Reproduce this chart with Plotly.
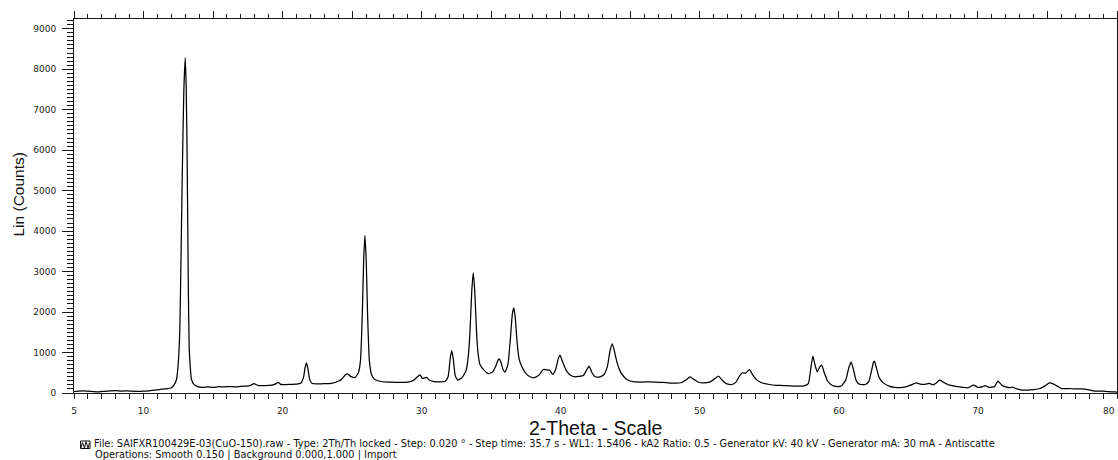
import plotly.graph_objects as go

# ---- data (2-theta in degrees, intensity in counts) ----
two_theta = [
    5.0, 5.3, 5.6, 6.0, 6.4, 6.8, 7.2, 7.6, 8.0, 8.4, 8.8, 9.2, 9.6, 10.0, 10.4, 10.8, 11.2, 11.6,
    12.0, 12.2, 12.37, 12.5, 12.61, 12.71, 12.80, 12.90, 13.00, 13.07, 13.14, 13.21, 13.28, 13.38,
    13.45, 13.65, 13.85, 14.2, 14.6, 15.0, 15.4, 15.8, 16.2, 16.6, 17.0, 17.4, 17.7, 17.94, 18.2,
    18.6, 19.0, 19.3, 19.5, 19.68, 19.85, 20.2, 20.6, 21.0, 21.3, 21.5, 21.63, 21.72, 21.82, 21.95,
    22.1, 22.5, 23.0, 23.5, 24.0, 24.3, 24.55, 24.67, 24.9, 25.2, 25.45, 25.6, 25.73, 25.83, 25.92,
    26.01, 26.11, 26.24, 26.4, 26.6, 27.0, 27.5, 28.0, 28.5, 29.0, 29.4, 29.7, 29.88, 30.05, 30.2,
    30.36, 30.55, 30.9, 31.3, 31.7, 31.9, 32.05, 32.16, 32.27, 32.42, 32.6, 32.9, 33.2, 33.35,
    33.47, 33.6, 33.71, 33.82, 33.95, 34.05, 34.19, 34.5, 34.79, 35.1, 35.35, 35.5, 35.58, 35.7,
    35.85, 35.99, 36.2, 36.38, 36.52, 36.62, 36.72, 36.85, 37.0, 37.19, 37.5, 37.8, 38.03, 38.4,
    38.75, 39.0, 39.23, 39.42, 39.65, 39.82, 39.95, 40.1, 40.43, 40.7, 41.03, 41.3, 41.63, 41.85,
    42.04, 42.25, 42.47, 42.83, 43.1, 43.35, 43.55, 43.71, 43.88, 44.05, 44.27, 44.5, 44.75, 45.2,
    45.8, 46.4, 47.0, 47.6, 48.2, 48.7, 49.0, 49.3, 49.6, 49.9, 50.3, 50.7, 51.0, 51.34, 51.6,
    51.9, 52.3, 52.6, 52.85, 53.07, 53.3, 53.57, 53.8, 54.1, 54.4, 55.0, 55.5, 56.0, 56.5, 57.0,
    57.5, 57.8, 57.98, 58.13, 58.28, 58.45, 58.62, 58.77, 58.95, 59.2, 59.5, 59.9, 60.2, 60.5,
    60.72, 60.88, 61.02, 61.25, 61.5, 61.9, 62.15, 62.35, 62.48, 62.56, 62.7, 62.9, 63.2, 63.6,
    64.0, 64.4, 64.8, 65.2, 65.56, 65.85, 66.2, 66.5, 66.8, 67.0, 67.24, 67.5, 67.9, 68.4, 68.9,
    69.3, 69.69, 70.0, 70.3, 70.52, 70.8, 71.2, 71.44, 71.7, 72.0, 72.3, 72.49, 72.8, 73.2, 73.6,
    74.0, 74.4, 74.8, 75.15, 75.45, 75.75, 76.0, 76.5, 77.0, 77.5, 77.8, 78.2, 78.6, 79.0, 79.4,
    79.8, 80.0,
]
counts = [
    35, 45, 55, 45, 35, 30, 40, 50, 60, 45, 55, 45, 40, 45, 55, 70, 90, 100,
    130, 200, 333, 750, 1570, 3700, 5690, 7500, 8280, 7500, 5690, 3000, 1156, 550,
    333, 200, 165, 140, 150, 140, 155, 150, 160, 150, 165, 170, 190, 230, 190,
    185, 190, 200, 225, 265, 215, 210, 215, 220, 240, 380, 650, 745, 600, 330,
    240, 225, 230, 240, 290, 360, 460, 475, 410, 380, 500, 800, 1950, 3300, 3890,
    3300, 1950, 800, 450, 340, 290, 270, 265, 260, 270, 310, 400, 450, 360, 370,
    385, 320, 280, 275, 290, 400, 850, 1050, 850, 420, 320, 380, 560, 900,
    1480, 2500, 2970, 2500, 1480, 1000, 704, 560, 480, 520, 680, 820, 845, 760,
    580, 515, 700, 1350, 1950, 2105, 1900, 1300, 850, 663, 480, 400, 375, 430,
    580, 570, 556, 457, 600, 850, 935, 800, 540, 440, 400, 410, 432, 560,
    662, 500, 400, 400, 450, 650, 1050, 1215, 1000, 750, 540, 420, 333, 280,
    270, 275, 265, 255, 245, 260, 320, 400, 330, 265, 250, 270, 330, 415, 320,
    230, 210, 270, 420, 500, 490, 580, 450, 320, 260, 210, 190, 185, 175, 170,
    175, 230, 600, 910, 700, 520, 640, 690, 500, 290, 190, 160, 180, 330,
    630, 762, 620, 300, 215, 210, 280, 550, 750, 785, 620, 380, 250, 170,
    140, 130, 150, 200, 250, 220, 215, 235, 200, 250, 316, 270, 200, 165, 140,
    130, 193, 140, 150, 185, 140, 160, 292, 200, 150, 130, 143, 100, 70, 72,
    85, 105, 170, 252, 220, 160, 110, 110, 100, 100, 90, 60, 45, 45, 35,
    25, 20,
]

x_tick_values = list(range(5, 81))
x_labelled = [5, 10, 20, 30, 40, 50, 60, 70, 80]
# the last label sits on the window edge, so it is drawn separately (right-aligned) below
x_tick_text = [str(v) if v in x_labelled[:-1] else "" for v in x_tick_values]

x_range = [5, 80]
y_range = [0, 9240]

x_title = "2-Theta - Scale"
y_title = "Lin (Counts)"
info_line1 = ("File: SAIFXR100429E-03(CuO-150).raw - Type: 2Th/Th locked - Step: 0.020 \u00b0 - "
              "Step time: 35.7 s - WL1: 1.5406 - kA2 Ratio: 0.5 - Generator kV: 40 kV - "
              "Generator mA: 30 mA - Antiscatte")
info_line2 = "Operations: Smooth 0.150 | Background 0.000,1.000 | Import"

# ---- layout geometry (window pixels) ----
W, H = 1118, 460
PLOT_L, PLOT_R, PLOT_T, PLOT_B = 74, 1116.7, 19.3, 393.3
ML = round(PLOT_L)
MT = round(PLOT_T)
MR = max(1, round(W - PLOT_R))
MB = round(H - PLOT_B)
PW, PH = W - ML - MR, H - MT - MB


def px(xp):
    return (xp - ML) / PW


def py(yp):
    return (H - MB - yp) / PH


AX = "#1a1a1a"
fig = go.Figure()
fig.add_trace(go.Scatter(x=two_theta, y=counts, mode="lines",
                         line=dict(color="black", width=1.25, shape="spline", smoothing=0.5),
                         hoverinfo="x+y"))
# invisible copy so the mirrored (top / right) axes get drawn
fig.add_trace(go.Scatter(x=two_theta, y=counts, mode="lines", xaxis="x2", yaxis="y2",
                         line=dict(color="rgba(0,0,0,0)", width=0), hoverinfo="skip"))

fig.update_layout(
    width=W, height=H,
    margin=dict(l=ML, r=MR, t=MT, b=MB, pad=0, autoexpand=False),
    plot_bgcolor="white", paper_bgcolor="white",
    showlegend=False,
    font=dict(family="DejaVu Sans", size=9, color="#222"),
    xaxis=dict(range=x_range, tickmode="array", tickvals=x_tick_values, ticktext=x_tick_text,
               ticks="outside", ticklen=5, tickwidth=1, tickcolor=AX, automargin=False,
               showline=True, linecolor=AX, linewidth=1, showgrid=False, zeroline=False,
               ticklabelstandoff=4, ticklabeloverflow="allow"),
    xaxis2=dict(range=x_range, overlaying="x", side="top", anchor="y", automargin=False,
                tickmode="linear", tick0=5, dtick=5, ticks="outside", ticklen=7, tickwidth=1.2,
                tickcolor=AX, minor=dict(tick0=5, dtick=1, ticks="outside", ticklen=4, tickcolor=AX),
                showticklabels=False, showline=True, linecolor=AX, linewidth=1,
                showgrid=False, zeroline=False),
    yaxis=dict(range=y_range, tickmode="linear", tick0=0, dtick=1000, automargin=False,
               ticks="outside", ticklen=11, tickwidth=1, tickcolor=AX,
               minor=dict(dtick=100, ticks="outside", ticklen=6, tickcolor=AX),
               showline=True, linecolor=AX, linewidth=1, showgrid=False, zeroline=False,
               ticklabelstandoff=4, ticklabeloverflow="allow"),
    yaxis2=dict(range=y_range, overlaying="y", side="right", anchor="x", automargin=False,
                tickmode="linear", tick0=0, dtick=1000, ticks="outside", ticklen=3,
                tickcolor=AX, minor=dict(dtick=100, ticks="outside", ticklen=2, tickcolor=AX),
                showticklabels=False, showline=True, linecolor=AX, linewidth=1,
                showgrid=False, zeroline=False),
)

# last x tick label, kept inside the window
fig.add_annotation(text=str(x_labelled[-1]), xref="x", yref="paper", x=x_labelled[-1],
                   y=py(410.7), xanchor="right", yanchor="middle", xshift=-1, showarrow=False,
                   borderpad=0, font=dict(family="DejaVu Sans", size=9, color="#222"))

fig.add_annotation(text=y_title, xref="paper", yref="paper", x=px(18), y=py(194.5),
                   textangle=-90, showarrow=False, xanchor="center", yanchor="middle",
                   font=dict(family="Liberation Sans", size=15.5, color="#111"))
fig.add_annotation(text=x_title, xref="paper", yref="paper", x=px(595.5), y=py(428),
                   showarrow=False, xanchor="center", yanchor="middle",
                   font=dict(family="Liberation Sans", size=19.5, color="#111"))
fig.add_annotation(text=info_line1, xref="paper", yref="paper", x=px(91.5), y=py(444),
                   showarrow=False, xanchor="left", yanchor="middle",
                   font=dict(family="DejaVu Sans", size=9.8, color="#111"))
fig.add_annotation(text=info_line2, xref="paper", yref="paper", x=px(93), y=py(454.6),
                   showarrow=False, xanchor="left", yanchor="middle",
                   font=dict(family="DejaVu Sans", size=9.8, color="#111"))

# small pattern icon left of the file line
fig.add_shape(type="rect", xref="paper", yref="paper",
              x0=px(80.5), x1=px(90), y0=py(448.5), y1=py(441),
              line=dict(color="#111", width=1), fillcolor="white")
zig = [(81, 448), (82.5, 442.5), (84.5, 448), (86, 441.5), (88, 448), (89.5, 443)]
path = "M " + " L ".join(f"{px(a):.5f},{py(b):.5f}" for a, b in zig)
fig.add_shape(type="path", xref="paper", yref="paper", path=path,
              line=dict(color="#111", width=1))

# remove the browser's default body margin so the figure sits at the window's corner
post = (
    "document.body.style.margin='0';"
    "document.body.style.overflow='hidden';"
    "document.documentElement.style.overflow='hidden';"
)
fig.write_html("out.html", config={"displayModeBar": False}, post_script=post)
